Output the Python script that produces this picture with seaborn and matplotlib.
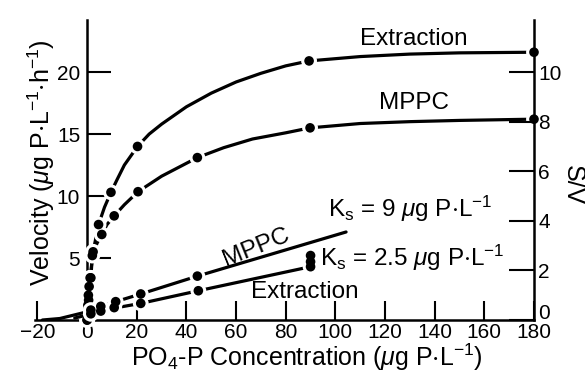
import matplotlib
matplotlib.use("Agg")
import matplotlib.pyplot as plt
import matplotlib.transforms as mtransforms
import seaborn as sns
import pandas as pd

# ---------------- data ----------------
# Michaelis-Menten plots: velocity (left axis) vs PO4-P concentration
ext_dot_s = [0, 0.3, 0.5, 0.8, 1.2, 2.4, 4.6, 9.6, 20.3, 89.4, 180]
ext_dot_v = [0, 1.2, 2.0, 2.7, 3.4, 5.5, 7.7, 10.3, 14.0, 20.9, 21.6]
mppc_dot_s = [0, 0.3, 0.6, 1.5, 2.1, 5.9, 10.9, 20.5, 44.4, 89.8, 180]
mppc_dot_v = [0, 0.8, 1.6, 3.4, 5.2, 6.9, 8.4, 10.35, 13.1, 15.5, 16.2]

# traced curve lines
ext_curve_s = [0, 0.3, 0.5, 0.8, 1.2, 2.4, 4.6, 7, 9.6, 12, 15, 20.3, 25, 30, 40, 50,
               60, 70, 80, 89.4, 110, 130, 150, 180]
ext_curve_v = [0, 1.2, 2.0, 2.7, 3.4, 5.5, 7.7, 9.1, 10.3, 11.3, 12.5, 14.0, 15.0, 15.8,
               17.2, 18.3, 19.2, 19.9, 20.5, 20.9, 21.25, 21.45, 21.55, 21.6]
mppc_curve_s = [0, 0.3, 0.6, 1.5, 2.1, 4, 5.9, 8, 10.9, 15, 20.5, 30, 44.4, 55, 66.6,
                80, 89.8, 110, 130, 150, 180]
mppc_curve_v = [0, 0.8, 1.6, 3.4, 5.2, 6.2, 6.9, 7.7, 8.4, 9.3, 10.35, 11.6, 13.1, 13.9,
                14.6, 15.1, 15.5, 15.85, 16.0, 16.1, 16.2]

# Hanes-Woolf plots: S/V (right axis) vs concentration
hw_ext_dot_s = [1.5, 5.5, 10.9, 21.6, 44.8, 90, 90, 90]
hw_ext_dot_sv = [0.25, 0.36, 0.5, 0.67, 1.18, 2.15, 2.35, 2.6]
hw_mppc_dot_s = [1.5, 5.5, 11.5, 21.6, 44.4]
hw_mppc_dot_sv = [0.4, 0.55, 0.74, 1.05, 1.77]

hw_ext_line_s = [-5, 0, 1.5, 5.5, 10.9, 21.6, 44.8, 90]
hw_ext_line_sv = [0.08, 0.2, 0.25, 0.36, 0.48, 0.67, 1.18, 2.15]
hw_mppc_line_s = [-18, -11, 0, 1.5, 5.5, 11.5, 21.6, 44.4, 104.3]
hw_mppc_line_sv = [0.0, 0.06, 0.33, 0.4, 0.55, 0.74, 1.05, 1.77, 3.55]

x_ticks = [-20, 0, 20, 40, 60, 80, 100, 120, 140, 160, 180]
left_ticks = [5, 10, 15, 20]
right_ticks = [0, 2, 4, 6, 8, 10]

# ---------------- style ----------------
sns.set_theme(style="ticks")
plt.rcParams["font.family"] = ["Liberation Sans", "DejaVu Sans"]
plt.rcParams["mathtext.fontset"] = "custom"
plt.rcParams["mathtext.rm"] = "Liberation Sans"
plt.rcParams["mathtext.it"] = "Liberation Sans:italic"
plt.rcParams["mathtext.default"] = "regular"

K = "black"
LW = 2.3
fig = plt.figure(figsize=(5.85, 3.75), dpi=100)
ax = fig.add_axes([35 / 585, 1 - 320 / 375, (534 - 35) / 585, 300 / 375])
ax2 = ax.twinx()

ax.set_xlim(-21, 180)
ax.set_ylim(0, 24.2)
ax2.set_ylim(0, 12.1)


def draw(axis, s, v, dots_s, dots_v):
    df_line = pd.DataFrame({"s": s, "v": v})
    sns.lineplot(data=df_line, x="s", y="v", ax=axis, sort=False, estimator=None,
                 color=K, lw=LW, zorder=2)
    df_dot = pd.DataFrame({"s": dots_s, "v": dots_v})
    sns.scatterplot(data=df_dot, x="s", y="v", ax=axis, color="white", s=130,
                    edgecolor="none", zorder=3, clip_on=False)
    sns.scatterplot(data=df_dot, x="s", y="v", ax=axis, color=K, s=48,
                    edgecolor="none", zorder=4, clip_on=False)


draw(ax, ext_curve_s, ext_curve_v, ext_dot_s, ext_dot_v)
draw(ax, mppc_curve_s, mppc_curve_v, mppc_dot_s, mppc_dot_v)
draw(ax2, hw_ext_line_s, hw_ext_line_sv, hw_ext_dot_s, hw_ext_dot_sv)
draw(ax2, hw_mppc_line_s, hw_mppc_line_sv, hw_mppc_dot_s, hw_mppc_dot_sv)

# ---------------- axes ----------------
for a in (ax, ax2):
    a.set_xlabel("")
    a.set_ylabel("")
    a.spines["top"].set_visible(False)
ax.spines["right"].set_visible(False)
ax.spines["left"].set_position(("data", 0))
ax2.spines["left"].set_visible(False)
ax2.spines["bottom"].set_visible(False)
for sp in ("left", "bottom"):
    ax.spines[sp].set_linewidth(1.8)
    ax.spines[sp].set_color(K)
ax2.spines["right"].set_linewidth(1.8)
ax2.spines["right"].set_color(K)

ax.set_xticks(x_ticks)
ax.set_xticklabels([str(t).replace("-", "\u2212") for t in x_ticks])
ax.set_yticks(left_ticks)
ax2.set_yticks(right_ticks)
ax.tick_params(axis="x", direction="in", length=14, width=1.5, labelsize=15,
               pad=2, colors=K)
ax.tick_params(axis="y", direction="in", length=17, width=1.5, labelsize=15,
               pad=5, colors=K)
ax2.tick_params(axis="y", direction="in", length=18, width=1.5, labelsize=15,
                pad=3, colors=K)

# lift the right-hand "0" so it sits above the 180 label, as in the original
fig.canvas.draw()
zero_lbl = ax2.get_yticklabels()[0]
zero_lbl.set_transform(zero_lbl.get_transform() +
                       mtransforms.ScaledTranslation(0, 6 / 72, fig.dpi_scale_trans))

# ---------------- text ----------------
FS = 17.5
ax.text(131.6, 22.7, "Extraction", fontsize=FS, ha="center", va="center", color=K)
ax.text(131.6, 17.5, "MPPC", fontsize=FS, ha="center", va="center", color=K)
ax.text(68.3, 5.9, "MPPC", fontsize=FS, ha="center", va="center", rotation=22,
        rotation_mode="anchor", color=K)
ax.text(87.7, 2.25, "Extraction", fontsize=FS, ha="center", va="center", color=K)
ax.text(97, 9.0, r"K$_s$ = 9 $\mathit{\mu}$g P$\cdot$L$^{-1}$", fontsize=FS,
        ha="left", va="center", color=K)
ax.text(93.8, 5.0, r"K$_s$ = 2.5 $\mathit{\mu}$g P$\cdot$L$^{-1}$", fontsize=FS,
        ha="left", va="center", color=K)

fig.text(41 / 585, 1 - 163 / 375,
         r"Velocity ($\mathit{\mu}$g P$\cdot$L$^{-1}$$\cdot$h$^{-1}$)",
         rotation=90, ha="center", va="center", fontsize=18, color=K)
fig.text(307 / 585, 1 - 357 / 375,
         r"PO$_4$-P Concentration ($\mathit{\mu}$g P$\cdot$L$^{-1}$)",
         ha="center", va="center", fontsize=18, color=K)
fig.text(573 / 585, 1 - 185 / 375, "S/V", rotation=270, ha="center", va="center",
         fontsize=18, color=K)

fig.savefig("out.png", dpi=100)
